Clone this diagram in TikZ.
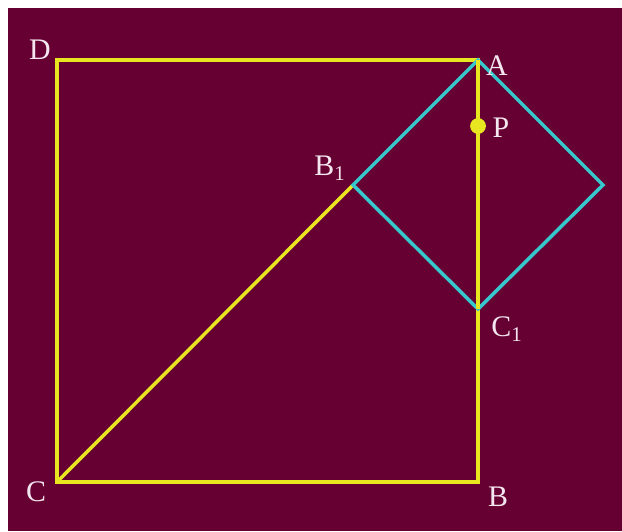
\documentclass[tikz,border=0pt]{standalone}
\usepackage{fontspec}
\setmainfont{Liberation Serif}
\definecolor{bgwine}{HTML}{660033}
\definecolor{lineyellow}{HTML}{E8E620}
\definecolor{linecyan}{HTML}{36C8CC}
\definecolor{lbltext}{HTML}{F4E6EE}
\begin{document}
\begin{tikzpicture}[
    x=0.02cm, y=-0.02cm,
    yline/.style={draw=lineyellow, line width=2pt, line join=miter},
    cline/.style={draw=linecyan, line width=2pt, line join=miter},
    lbl/.style={text=lbltext, font=\fontsize{17}{19}\selectfont, inner sep=0pt},
    dot/.style={circle, fill=lineyellow, minimum size=9pt, inner sep=0pt},
]

% === Background ===
\useasboundingbox (0,0) rectangle (622,531);
\fill[white] (0,0) rectangle (622,531);
\fill[bgwine] (8,8) rectangle (622,531);

% --- Points ---
\coordinate (D) at (57,60);
\coordinate (A) at (478,60);
\coordinate (B) at (478,482);
\coordinate (C) at (57,482);
\coordinate (B1) at (353,185);
\coordinate (C1) at (478,309);
\coordinate (E) at (603,185);

% --- Big square and diagonal ---
\draw[yline] (A) -- (D) -- (C) -- (B) -- cycle;
\draw[yline] (C) -- (B1);

% --- Small square ---
\draw[cline] (A) -- (B1) -- (C1) -- (E) -- cycle;
\draw[yline] (A) -- (C1);

% --- Point P ---
\node[dot] (P) at (478,126) {};

% --- Labels ---
\node[lbl] (lD) at (40,50) {D};
\node[lbl] (lA) at (497,66) {A};
\node[lbl] (lP) at (501,128) {P};
\node[lbl] (lB1) at (330,168) {B\textsubscript{1}};
\node[lbl] (lC1) at (507,329) {C\textsubscript{1}};
\node[lbl] (lC) at (36,492) {C};
\node[lbl] (lB) at (498,497) {B};

\end{tikzpicture}
\end{document}
